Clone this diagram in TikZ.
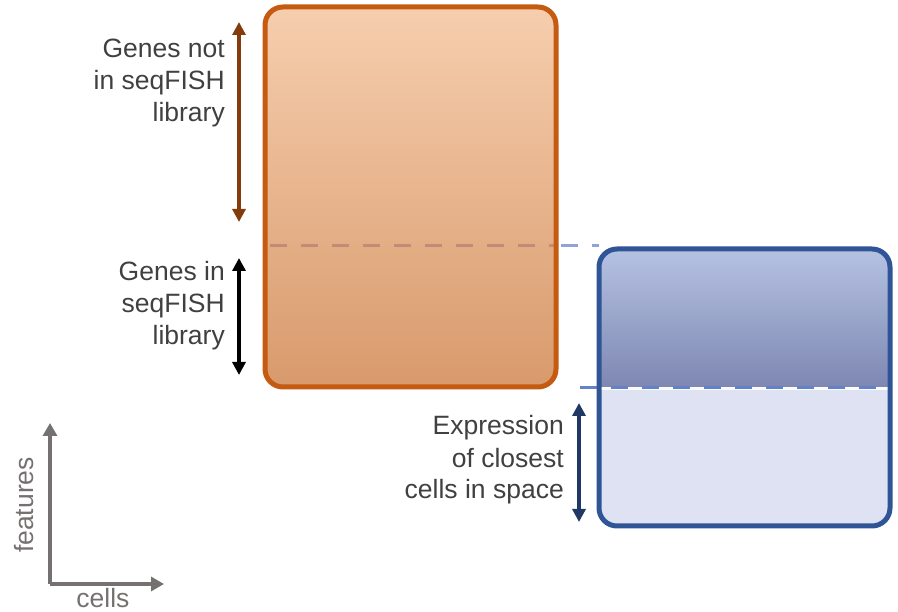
\documentclass[tikz,border=0pt]{standalone}
\usepackage{fontspec}
\setmainfont{Liberation Sans}
\usetikzlibrary{arrows.meta}

\definecolor{orangeline}{RGB}{197,90,17}
\definecolor{orangetop}{RGB}{246,206,174}
\definecolor{orangebot}{RGB}{216,154,108}
\definecolor{orangedash}{RGB}{196,138,120}
\definecolor{blueline}{RGB}{47,85,151}
\definecolor{bluetop}{RGB}{182,194,226}
\definecolor{bluebot}{RGB}{125,135,178}
\definecolor{bluelight}{RGB}{222,226,243}
\definecolor{bluedash}{RGB}{143,163,214}
\definecolor{bluedashdark}{RGB}{100,130,200}
\definecolor{arrowbrown}{RGB}{132,60,12}
\definecolor{arrowblue}{RGB}{31,56,100}
\definecolor{axisgray}{RGB}{118,113,113}
\definecolor{textgray}{RGB}{64,64,64}

\tikzset{
  lbl/.style={align=right,inner sep=0pt,text=textgray,font=\fontsize{26.5}{32}\selectfont},
  axlbl/.style={inner sep=0pt,text=axisgray,font=\fontsize{26.5}{32}\selectfont},
  span/.style={line width=4pt,{Triangle[length=13pt,width=13pt]}-{Triangle[length=13pt,width=13pt]}},
  axis/.style={axisgray,line width=4.5pt,-{Triangle[length=13pt,width=14pt]}},
  cut/.style={line width=3pt,dash pattern=on 17pt off 14pt},
  box/.style={line width=5pt,rounded corners=18pt}
}

\begin{document}
\begin{tikzpicture}[x=1pt,y=-1pt]
\useasboundingbox (0,0) rectangle (898,612);

% Full expression matrix
\shade[top color=orangetop,bottom color=orangebot,rounded corners=18pt] (265,7) rectangle (556,387);
\draw[cut,orangedash] (270,246) -- (555,246);
\draw[box,orangeline] (265,7) rectangle (556,387);

% Imputed matrix
\begin{scope}
  \clip[rounded corners=18pt] (599,249) rectangle (890,526);
  \fill[bluelight] (599,249) rectangle (890,526);
  \shade[top color=bluetop,bottom color=bluebot] (599,249) rectangle (890,388);
  \draw[white!85!bluelight,line width=3pt] (599,389) -- (890,389);
\end{scope}
\draw[cut,bluedash] (561,246) -- (599,246);
\draw[cut,bluedashdark,dash phase=-8pt] (572,388) -- (890,388);
\draw[box,blueline] (599,249) rectangle (890,526);

% Labels
\node[lbl,anchor=base east] (notlib) at (225,122) {Genes not\\in seqFISH\\library};
\node[lbl,anchor=base east] (inlib) at (225,345) {Genes in\\seqFISH\\library};
\node[lbl,anchor=base east] (closest) at (564,499) {Expression\\of closest\\cells in space};

% Spans
\coordinate (notlibtop) at (239,22);
\coordinate (notlibbot) at (239,222);
\coordinate (inlibtop) at (239,258);
\coordinate (inlibbot) at (239,375);
\coordinate (closetop) at (579,403);
\coordinate (closebot) at (579,522);
\draw[span,arrowbrown] (notlibtop) -- (notlibbot);
\draw[span,black] (inlibtop) -- (inlibbot);
\draw[span,arrowblue] (closetop) -- (closebot);

% Axes
\coordinate (origin) at (50,584);
\coordinate (ytip) at (50,423);
\coordinate (xtip) at (164,584);
\draw[axis] (origin) -- (ytip);
\draw[axis] (origin) -- (xtip);
\node[axlbl,rotate=90] (features) at (24,505) {features};
\node[axlbl,anchor=base] (cells) at (103,607) {cells};
\end{tikzpicture}
\end{document}
